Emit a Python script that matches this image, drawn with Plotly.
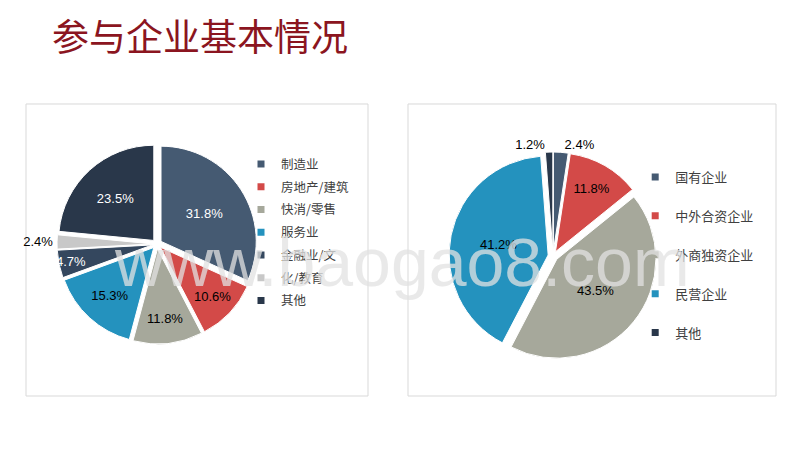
import plotly.graph_objects as go

title_text = "参与企业基本情况"
watermark_text = "www.baogao8.com"

# Left pie: industry distribution
ind_labels = ["制造业", "房地产/建筑", "快消/零售", "服务业", "金融业/文", "化/教育", "其他"]
ind_values = [31.8, 10.6, 11.8, 15.3, 4.7, 2.4, 23.5]
ind_colors = ["#455A72", "#D34A48", "#A6A89B", "#2492BE", "#34475E", "#C8C8C8", "#29374A"]
ind_textcolors = ["white", "black", "black", "black", "white", "black", "white"]
ind_textpos = ["inside", "inside", "inside", "inside", "inside", "outside", "inside"]

# Right pie: ownership type
own_labels = ["国有企业", "中外合资企业", "外商独资企业", "民营企业", "其他"]
own_values = [2.4, 11.8, 43.5, 41.2, 1.2]
own_colors = ["#455A72", "#D34A48", "#A6A89B", "#2492BE", "#29374A"]
own_textcolors = ["black", "black", "black", "black", "black"]
own_textpos = ["outside", "inside", "inside", "inside", "outside"]

FONT = "Liberation Sans, Arial, Noto Sans CJK SC, sans-serif"
CJK = "Noto Sans CJK SC, Microsoft YaHei, sans-serif"

fig = go.Figure()

fig.add_trace(go.Pie(
    labels=ind_labels, values=ind_values, sort=False, direction="clockwise", rotation=0,
    marker=dict(colors=ind_colors, line=dict(color="white", width=1)),
    pull=[0.05] * len(ind_values),
    texttemplate="%{value:.1f}%", textposition=ind_textpos,
    insidetextfont=dict(color=ind_textcolors, size=13, family=FONT),
    outsidetextfont=dict(color="black", size=13, family=FONT),
    insidetextorientation="horizontal", showlegend=False,
    domain=dict(x=[0.07125, 0.32125], y=[0.2356, 0.68]),
))

fig.add_trace(go.Pie(
    labels=own_labels, values=own_values, sort=False, direction="clockwise", rotation=0,
    marker=dict(colors=own_colors, line=dict(color="white", width=1)),
    pull=[0.05] * len(own_values),
    texttemplate="%{value:.1f}%", textposition=own_textpos,
    insidetextfont=dict(color=own_textcolors, size=13, family=FONT),
    outsidetextfont=dict(color="black", size=13, family=FONT),
    insidetextorientation="horizontal", showlegend=False,
    domain=dict(x=[0.56125, 0.82125], y=[0.2, 0.6622]),
))

# legend entries (one group per entry so spacing can match the reference)
for i, (lab, col) in enumerate(zip(ind_labels, ind_colors)):
    fig.add_trace(go.Scatter(x=[None], y=[None], mode="markers", name=lab,
                             marker=dict(symbol="square", size=7, color=col),
                             legend="legend", legendgroup=f"ind{i}", hoverinfo="skip"))
for i, (lab, col) in enumerate(zip(own_labels, own_colors)):
    fig.add_trace(go.Scatter(x=[None], y=[None], mode="markers", name=lab,
                             marker=dict(symbol="square", size=7, color=col),
                             legend="legend2", legendgroup=f"own{i}", hoverinfo="skip"))

fig.update_layout(
    width=800, height=450, margin=dict(l=0, r=0, t=0, b=0),
    paper_bgcolor="white", plot_bgcolor="white",
    xaxis=dict(visible=False), yaxis=dict(visible=False),
    uniformtext=dict(minsize=13, mode="show"),
    legend=dict(x=0.30125, y=0.668, xanchor="left", yanchor="top", tracegroupgap=3.5,
                font=dict(size=12.5, color="#404040", family=CJK),
                bgcolor="rgba(0,0,0,0)", itemclick=False, itemdoubleclick=False),
    legend2=dict(x=0.794, y=0.64, xanchor="left", yanchor="top", tracegroupgap=19,
                 font=dict(size=13, color="#404040", family=CJK),
                 bgcolor="rgba(0,0,0,0)", itemclick=False, itemdoubleclick=False),
    shapes=[
        dict(type="rect", xref="paper", yref="paper", x0=0.0325, x1=0.46, y0=0.12, y1=0.7689,
             line=dict(color="#D9D9D9", width=1), layer="below"),
        dict(type="rect", xref="paper", yref="paper", x0=0.51, x1=0.97, y0=0.12, y1=0.7689,
             line=dict(color="#D9D9D9", width=1), layer="below"),
    ],
    annotations=[
        dict(text=title_text, xref="paper", yref="paper", x=0.063, y=0.922,
             xanchor="left", yanchor="middle", showarrow=False,
             font=dict(size=37, color="#8B1520", family=CJK)),
        dict(text=watermark_text, xref="paper", yref="paper", x=0.503, y=0.418,
             xanchor="center", yanchor="middle", showarrow=False,
             font=dict(size=68, color="rgba(225,225,225,0.75)", family=FONT)),
    ],
)

fig.write_html("out.html", config={"displayModeBar": False},
               post_script="document.body.style.margin='0px';")
